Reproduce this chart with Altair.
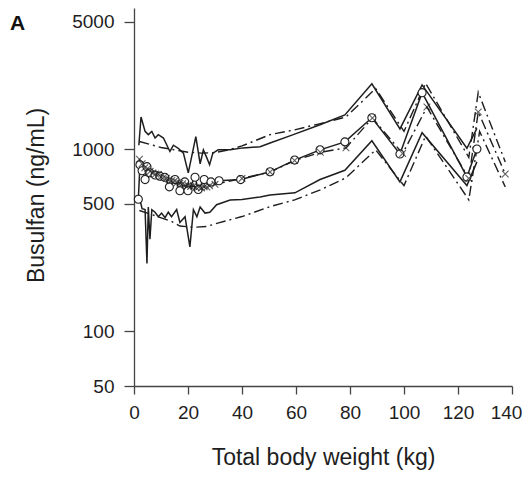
import altair as alt
import pandas as pd

# ---- observed percentiles (solid lines) ----
obs_upper_kg = [1.8, 2.6, 4.1, 5.3, 6.6, 7.8, 9.0, 10.9, 13.3, 14.6, 16.4, 18.3, 20.1, 22.9, 24.5,
                25.7, 26.9, 28.0, 29.2, 31.2, 35.6, 40.4, 46.7, 50.4, 59.0, 68.9, 78.1, 88.1, 98.5,
                106.7, 123.3, 127.0]
obs_upper_val = [1050, 1500, 1250, 1200, 1250, 1150, 1200, 1150, 970, 1050, 1010, 950, 740, 1170, 830,
                 990, 900, 820, 950, 990, 990, 1015, 1030, 1080, 1200, 1360, 1540, 2280, 1290,
                 2250, 1010, 1300]

obs_med_kg = [1.6, 2.2, 3.0, 4.1, 4.8, 5.9, 7.8, 9.6, 11.4, 13.1, 15.2, 17.0, 18.8, 20.0, 22.6, 23.8,
              26.0, 28.5, 31.5, 39.5, 50.4, 59.5, 68.9, 78.1, 88.1, 98.5, 106.7, 123.3, 127.0]
obs_med_val = [530, 820, 760, 680, 800, 740, 720, 710, 700, 620, 680, 590, 660, 590, 700, 600,
               680, 660, 670, 680, 750, 870, 990, 1095, 1485, 940, 2040, 703, 1000]

obs_lower_kg = [2.0, 3.0, 4.1, 4.8, 5.3, 5.9, 6.6, 7.8, 9.0, 10.2, 11.5, 12.7, 13.9, 15.8, 17.0, 18.9,
                20.7, 22.0, 23.3, 24.5, 26.3, 28.1, 30.6, 35.6, 40.0, 46.7, 50.4, 59.6, 68.9, 78.1,
                88.1, 98.5, 106.7, 123.3, 127.0]
obs_lower_val = [540, 470, 465, 235, 480, 320, 465, 450, 425, 445, 420, 450, 425, 465, 395, 425,
                 290, 465, 425, 480, 445, 450, 495, 525, 528, 546, 560, 575, 680, 765,
                 1110, 660, 1230, 630, 850]

# ---- predicted percentiles (dash-dot lines) ----
pred_upper_kg = [2.0, 6.0, 10.0, 15.0, 20.0, 25.0, 30.0, 35.0, 40.0, 50.4, 59.5, 69.0, 78.5, 89.5,
                 100.0, 108.0, 124.0, 127.5, 137.5]
pred_upper_val = [1100, 1060, 1020, 990, 960, 950, 955, 990, 1040, 1200, 1275, 1380, 1500, 2150,
                  1250, 2300, 900, 2050, 850]

pred_med_kg = [2.0, 3.0, 4.0, 5.0, 6.0, 7.0, 8.0, 9.0, 10.0, 11.0, 12.0, 13.0, 14.0, 15.0, 16.0,
               17.0, 18.0, 19.0, 20.0, 21.0, 22.0, 23.0, 24.0, 25.0, 26.0, 27.0, 28.0, 30.0, 40.0,
               50.4, 59.5, 69.0, 78.5, 88.3, 99.5, 108.5, 124.0, 127.5, 137.5]
pred_med_val = [880, 830, 790, 780, 755, 740, 730, 725, 705, 700, 690, 680, 672, 668, 655,
                650, 645, 632, 630, 622, 625, 615, 618, 612, 620, 618, 628, 640, 690,
                748, 865, 960, 1015, 1480, 945, 1700, 690, 1600, 730]

pred_lower_kg = [2.0, 8.0, 14.0, 17.0, 22.0, 27.0, 31.0, 40.0, 50.4, 59.5, 69.0, 78.5, 89.5, 100.0,
                 108.0, 124.0, 128.0, 137.5]
pred_lower_val = [460, 430, 400, 378, 372, 376, 392, 426, 483, 526, 597, 695, 990, 630,
                  1180, 526, 1250, 620]

x_ticks = [0, 20, 40, 60, 80, 100, 120, 140]
y_ticks = [50, 100, 500, 1000, 5000]


def frame(kg, val, name):
    return pd.DataFrame({"kg": kg, "val": val, "series": name})


solid_df = pd.concat([frame(obs_upper_kg, obs_upper_val, "obs_p95"),
                      frame(obs_med_kg, obs_med_val, "obs_p50"),
                      frame(obs_lower_kg, obs_lower_val, "obs_p05")])
dash_df = pd.concat([frame(pred_upper_kg, pred_upper_val, "pred_p95"),
                     frame(pred_med_kg, pred_med_val, "pred_p50"),
                     frame(pred_lower_kg, pred_lower_val, "pred_p05")])
circ_df = frame(obs_med_kg, obs_med_val, "obs_p50")
cross_df = frame(pred_med_kg, pred_med_val, "pred_p50")

FONT = "Liberation Sans"
INK = "#1e1e1e"

x_enc = alt.X("kg:Q",
              scale=alt.Scale(domain=[0, 140], nice=False, zero=False),
              axis=alt.Axis(values=x_ticks, title="Total body weight (kg)", grid=False,
                            tickSize=8, labelPadding=9, labelFlush=False, labelOverlap=False,
                            labelOffset=alt.condition("datum.value == 140", alt.value(-6), alt.value(0)),
                            labelFontSize=19, titleFontSize=23, titleFontWeight="normal",
                            labelFont=FONT, titleFont=FONT, labelColor=INK, titleColor=INK,
                            domainColor="#444", tickColor="#444", domainWidth=1.3, tickWidth=1.3,
                            titleX=189, titleY=78, titleAlign="center",
                            titleBaseline="alphabetic"))
y_enc = alt.Y("val:Q",
              scale=alt.Scale(type="log", domain=[50, 5950], nice=False),
              axis=alt.Axis(values=y_ticks, format="d", title="Busulfan (ng/mL)", grid=False,
                            tickSize=10, labelPadding=10, labelOverlap=False,
                            labelFontSize=19, titleFontSize=23, titleFontWeight="normal",
                            labelFont=FONT, titleFont=FONT, labelColor=INK, titleColor=INK,
                            domainColor="#444", tickColor="#444", domainWidth=1.3, tickWidth=1.3,
                            titleX=-91, titleY=187, titleAlign="center", titleAngle=270,
                            titleBaseline="alphabetic"))

solid = alt.Chart(solid_df).mark_line(color=INK, strokeWidth=1.5).encode(
    x=x_enc, y=y_enc, detail="series:N")
dash = alt.Chart(dash_df).mark_line(color=INK, strokeWidth=1.4, strokeDash=[10, 4, 2, 4]).encode(
    x="kg:Q", y="val:Q", detail="series:N")
circles = alt.Chart(circ_df).mark_point(shape="circle", size=65, filled=False, color=INK,
                                        fill="white", fillOpacity=1, strokeWidth=1.1).encode(
    x="kg:Q", y="val:Q")
crosses = alt.Chart(cross_df).mark_point(shape="M-1,-1L1,1M1,-1L-1,1", size=45, filled=False,
                                         color=INK, strokeWidth=1.1).encode(
    x="kg:Q", y="val:Q")
panel = alt.Chart(pd.DataFrame({"t": ["A"]})).mark_text(
    fontSize=21, fontWeight="bold", font=FONT, align="left", baseline="alphabetic",
    color="#111").encode(text="t:N", x=alt.value(-124), y=alt.value(22))

chart = alt.layer(solid, dash, circles, crosses, panel).properties(
    width=378, height=378,
    autosize=alt.AutoSizeParams(type="none"),
    padding={"left": 126, "top": 0, "right": 11, "bottom": 85},
).configure_view(stroke=None)

chart.save("out.html", embed_options={"renderer": "svg", "actions": False})
